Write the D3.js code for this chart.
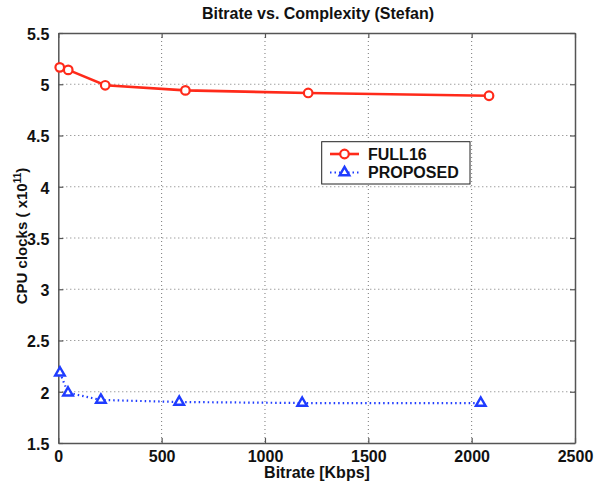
<!DOCTYPE html>
<html><head><meta charset="utf-8">
<script src="https://cdn.jsdelivr.net/npm/d3@7"></script>
<style>body{margin:0;background:#fff}svg{display:block;font-family:"Liberation Sans",Arial,sans-serif}</style>
</head><body><svg id="c" width="594" height="488"></svg>
<script>
const full16X = [7, 48, 227, 615, 1209, 2084];
const full16Y = [5.165, 5.14, 4.99, 4.94, 4.915, 4.888];
const propX = [8, 47, 206, 585, 1180, 2044];
const propY = [2.185, 1.99, 1.92, 1.90, 1.89, 1.89];
const xTicks = [0, 500, 1000, 1500, 2000, 2500];
const yTicks = [1.5, 2, 2.5, 3, 3.5, 4, 4.5, 5, 5.5];
const title = "Bitrate vs. Complexity (Stefan)";
const xLabel = "Bitrate [Kbps]";
const seriesNames = ["FULL16", "PROPOSED"];

const svg = d3.select("#c");
const L = 58.3, R = 575, T = 33, B = 443;
const x = d3.scaleLinear().domain([0, 2500]).range([L, R]);
const y = d3.scaleLinear().domain([1.5, 5.5]).range([B, T]);
const FS = 16;

// grid
const g = svg.append("g");
g.selectAll(".gx").data(xTicks.slice(1, -1)).join("line")
  .attr("x1", d => x(d)).attr("x2", d => x(d)).attr("y1", T).attr("y2", B)
  .attr("stroke", "#777").attr("stroke-width", 1).attr("stroke-dasharray", "1,3");
g.selectAll(".gy").data(yTicks.slice(1, -1)).join("line")
  .attr("y1", d => y(d)).attr("y2", d => y(d)).attr("x1", L).attr("x2", R)
  .attr("stroke", "#777").attr("stroke-width", 1).attr("stroke-dasharray", "1,3");

// axes with inward ticks
const ax = svg.append("g");
const xb = ax.append("g").attr("transform", `translate(0,${B})`).call(d3.axisBottom(x).tickValues(xTicks).tickSizeInner(-5).tickSizeOuter(0).tickPadding(8).tickFormat(d3.format("d")));
const xt = ax.append("g").attr("transform", `translate(0,${T})`).call(d3.axisTop(x).tickValues(xTicks).tickSizeInner(-5).tickSizeOuter(0).tickFormat(""));
const yl = ax.append("g").attr("transform", `translate(${L},0)`).call(d3.axisLeft(y).tickValues(yTicks).tickSizeInner(-5).tickSizeOuter(0).tickPadding(9).tickFormat(d3.format("")));
const yr = ax.append("g").attr("transform", `translate(${R},0)`).call(d3.axisRight(y).tickValues(yTicks).tickSizeInner(-5).tickSizeOuter(0).tickFormat(""));
[xb, xt, yl, yr].forEach(a => {
  a.select(".domain").attr("stroke", "#555").attr("stroke-width", 1.5);
  a.selectAll(".tick line").attr("stroke", "#555").attr("stroke-width", 1.2);
  a.selectAll("text").attr("font-family", '"Liberation Sans",Arial,sans-serif').attr("font-size", FS).attr("font-weight", "bold").attr("fill", "#111");
});
yl.selectAll("text").attr("dy", "0.4em");

// lines
const line = d3.line().x(d => x(d[0])).y(d => y(d[1]));
const fd = full16X.map((v, i) => [v, full16Y[i]]);
const pd = propX.map((v, i) => [v, propY[i]]);
const red = "#ff2a1a", blue = "#1f3cff";
svg.append("path").datum(fd).attr("d", line).attr("fill", "none").attr("stroke", red).attr("stroke-width", 2.6);
svg.selectAll(".fm").data(fd).join("circle").attr("cx", d => x(d[0])).attr("cy", d => y(d[1])).attr("r", 4.3)
  .attr("fill", "#fff").attr("stroke", red).attr("stroke-width", 2.2);
svg.append("path").datum(pd).attr("d", line).attr("fill", "none").attr("stroke", blue).attr("stroke-width", 2.2).attr("stroke-dasharray", "1.5,3");
const tri = d3.symbol().type(d3.symbolTriangle).size(40);
svg.selectAll(".pm").data(pd).join("path").attr("d", tri)
  .attr("transform", d => `translate(${x(d[0])},${y(d[1])})`)
  .attr("fill", "#fff").attr("stroke", blue).attr("stroke-width", 2.4);

// title & labels
svg.append("text").attr("x", 318).attr("y", 19).attr("text-anchor", "middle").attr("font-size", FS).attr("font-weight", "bold").attr("fill", "#111").text(title);
svg.append("text").attr("x", 317).attr("y", 478).attr("text-anchor", "middle").attr("font-size", FS).attr("font-weight", "bold").attr("fill", "#111").text(xLabel);
const yt = svg.append("text").attr("transform", "translate(27,236) rotate(-90)").attr("text-anchor", "middle").attr("font-size", 15).attr("font-weight", "bold").attr("fill", "#111");
yt.append("tspan").text("CPU clocks ( x10");
yt.append("tspan").attr("dy", -6).attr("font-size", 10).text("11");
yt.append("tspan").attr("dy", 6).text(")");

// legend
const lg = svg.append("g");
lg.append("rect").attr("x", 321.7).attr("y", 141.7).attr("width", 148.3).attr("height", 42.3).attr("fill", "#fff").attr("stroke", "#222").attr("stroke-width", 1);
const rows = [{n: seriesNames[0], c: red, yy: 154, t: "o"}, {n: seriesNames[1], c: blue, yy: 172.5, t: "t"}];
rows.forEach(r => {
  const l = lg.append("line").attr("x1", 330).attr("x2", 359).attr("y1", r.yy).attr("y2", r.yy).attr("stroke", r.c);
  if (r.t === "o") {
    l.attr("stroke-width", 2.6);
    lg.append("circle").attr("cx", 344.5).attr("cy", r.yy).attr("r", 4.3).attr("fill", "#fff").attr("stroke", r.c).attr("stroke-width", 2.2);
  } else {
    l.attr("stroke-width", 2.2).attr("stroke-dasharray", "1.5,3");
    lg.append("path").attr("d", tri).attr("transform", `translate(344.5,${r.yy})`).attr("fill", "#fff").attr("stroke", r.c).attr("stroke-width", 2.4);
  }
  lg.append("text").attr("x", 368).attr("y", r.yy + 5.5).attr("font-size", FS).attr("font-weight", "bold").attr("fill", "#111").text(r.n);
});
</script></body></html>
